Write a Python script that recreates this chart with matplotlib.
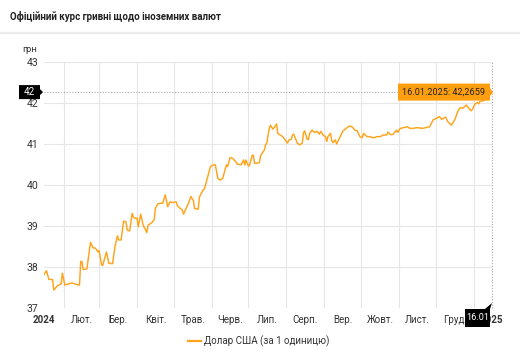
import matplotlib
matplotlib.use("Agg")
import matplotlib.pyplot as plt
import matplotlib.dates as mdates
from matplotlib.patches import Polygon
from matplotlib.lines import Line2D
from matplotlib.transforms import IdentityTransform
import pandas as pd

plt.rcParams['font.family'] = ['Roboto', 'DejaVu Sans']

# Official NBU rate, UAH per 1 USD
dates = [
    "2024-01-16", "2024-01-18", "2024-01-20", "2024-01-23", "2024-01-24", "2024-01-27",
    "2024-01-30", "2024-01-31", "2024-02-02", "2024-02-04", "2024-02-08", "2024-02-12",
    "2024-02-14", "2024-02-15", "2024-02-16", "2024-02-17", "2024-02-20", "2024-02-23",
    "2024-02-25", "2024-02-27", "2024-02-29", "2024-03-01", "2024-03-03", "2024-03-04",
    "2024-03-07", "2024-03-09", "2024-03-12", "2024-03-14", "2024-03-16", "2024-03-17",
    "2024-03-19", "2024-03-21", "2024-03-23", "2024-03-24", "2024-03-26", "2024-03-28",
    "2024-03-29", "2024-03-30", "2024-04-01", "2024-04-02", "2024-04-04", "2024-04-06",
    "2024-04-09", "2024-04-10", "2024-04-13", "2024-04-15", "2024-04-16", "2024-04-18",
    "2024-04-21", "2024-04-22", "2024-04-24", "2024-04-25", "2024-04-26", "2024-04-28",
    "2024-04-30", "2024-05-03", "2024-05-04", "2024-05-08", "2024-05-09", "2024-05-12",
    "2024-05-13", "2024-05-15", "2024-05-17", "2024-05-18", "2024-05-21", "2024-05-22",
    "2024-05-25", "2024-05-26", "2024-05-28", "2024-05-31", "2024-06-02", "2024-06-04",
    "2024-06-06", "2024-06-08", "2024-06-10", "2024-06-13", "2024-06-14", "2024-06-16",
    "2024-06-18", "2024-06-20", "2024-06-22", "2024-06-25", "2024-06-27", "2024-06-28",
    "2024-06-29", "2024-07-01", "2024-07-02", "2024-07-04", "2024-07-05", "2024-07-06",
    "2024-07-08", "2024-07-10", "2024-07-11", "2024-07-13", "2024-07-14", "2024-07-15",
    "2024-07-16", "2024-07-18", "2024-07-19", "2024-07-21", "2024-07-23", "2024-07-24",
    "2024-07-25", "2024-07-27", "2024-07-29", "2024-08-01", "2024-08-02", "2024-08-03",
    "2024-08-05", "2024-08-06", "2024-08-07", "2024-08-10", "2024-08-12", "2024-08-14",
    "2024-08-15", "2024-08-16", "2024-08-18", "2024-08-19", "2024-08-20", "2024-08-22",
    "2024-08-24", "2024-08-26", "2024-08-28", "2024-08-29", "2024-08-31", "2024-09-02",
    "2024-09-03", "2024-09-04", "2024-09-06", "2024-09-07", "2024-09-08", "2024-09-10",
    "2024-09-11", "2024-09-14", "2024-09-16", "2024-09-20", "2024-09-22", "2024-09-24",
    "2024-09-26", "2024-09-28", "2024-09-30", "2024-10-02", "2024-10-03", "2024-10-06",
    "2024-10-08", "2024-10-11", "2024-10-14", "2024-10-17", "2024-10-19", "2024-10-22",
    "2024-10-23", "2024-10-25", "2024-10-27", "2024-10-30", "2024-10-31", "2024-11-02",
    "2024-11-05", "2024-11-08", "2024-11-10", "2024-11-12", "2024-11-16", "2024-11-20",
    "2024-11-23", "2024-11-26", "2024-11-29", "2024-12-02", "2024-12-04", "2024-12-06",
    "2024-12-09", "2024-12-11", "2024-12-14", "2024-12-17", "2024-12-19", "2024-12-21",
    "2024-12-23", "2024-12-26", "2024-12-27", "2024-12-30", "2024-12-31", "2025-01-02",
    "2025-01-04", "2025-01-05", "2025-01-06", "2025-01-08", "2025-01-09", "2025-01-11",
    "2025-01-14", "2025-01-16",
]
usd_rate = [
    37.82, 37.91, 37.70, 37.69, 37.44, 37.54,
    37.59, 37.85, 37.56, 37.58, 37.61, 37.57,
    37.56, 38.13, 38.14, 37.94, 37.95, 38.60,
    38.47, 38.46, 38.37, 38.40, 38.05, 38.04,
    38.37, 38.09, 38.08, 38.50, 38.76, 38.66,
    38.66, 39.12, 39.10, 38.90, 38.88, 39.31,
    39.22, 39.19, 39.19, 38.98, 39.29, 39.02,
    38.84, 39.02, 39.08, 39.15, 39.43, 39.54,
    39.56, 39.55, 39.76, 39.63, 39.47, 39.59,
    39.57, 39.59, 39.49, 39.39, 39.29, 39.49,
    39.55, 39.72, 39.62, 39.43, 39.41, 39.71,
    39.88, 39.90, 40.12, 40.45, 40.49, 40.49,
    40.16, 40.12, 40.16, 40.49, 40.45, 40.67,
    40.65, 40.59, 40.51, 40.49, 40.61, 40.49,
    40.61, 40.46, 40.49, 40.72, 40.73, 40.53,
    40.53, 40.55, 40.72, 40.81, 40.85, 40.98,
    41.02, 41.38, 41.46, 41.36, 41.44, 41.49,
    41.26, 41.22, 41.18, 41.06, 41.02, 41.10,
    41.11, 41.22, 41.24, 41.02, 40.98, 41.02,
    41.28, 41.32, 41.11, 41.11, 41.26, 41.34,
    41.28, 41.31, 41.24, 41.31, 41.22, 41.18,
    41.06, 41.18, 41.26, 41.10, 41.03, 41.10,
    41.00, 41.18, 41.31, 41.41, 41.44, 41.41,
    41.34, 41.32, 41.18, 41.15, 41.26, 41.18,
    41.18, 41.15, 41.18, 41.18, 41.22, 41.22,
    41.29, 41.23, 41.23, 41.34, 41.28, 41.38,
    41.40, 41.42, 41.38, 41.38, 41.40, 41.38,
    41.40, 41.42, 41.59, 41.63, 41.67, 41.60,
    41.66, 41.54, 41.46, 41.62, 41.79, 41.89,
    41.87, 41.95, 41.91, 41.81, 41.85, 41.97,
    42.01, 41.98, 42.03, 42.06, 42.05, 42.12,
    42.20, 42.2659,
]

title = "Офіційний курс гривні щодо іноземних валют"
unit_label = "грн"
series_name = "Долар США (за 1 одиницю)"
month_labels = ["Лют.", "Бер.", "Квіт.", "Трав.", "Черв.", "Лип.",
                "Серп.", "Вер.", "Жовт.", "Лист.", "Груд."]
year_labels = ["2024", "2025"]
y_ticks = [37, 38, 39, 40, 41, 42, 43]

LINE = "#FFA31A"
TIP = "#FF9F10"
GRID = "#e6e6e6"
TEXT = "#333333"

W, H = 520, 350
fig = plt.figure(figsize=(W / 100, H / 100), dpi=100)
fig.patch.set_facecolor("white")
ax = fig.add_axes([44 / W, 42 / H, 448 / W, 246 / H])

x = mdates.date2num(pd.to_datetime(dates))
ax.plot(x, usd_rate, color=LINE, lw=1.05, solid_joinstyle="round", zorder=3)

ax.set_xlim(x[0], x[-1])
ax.set_ylim(y_ticks[0], y_ticks[-1])

# grid at month boundaries, labels in the middle of each month
month_starts = pd.date_range("2024-02-01", "2025-01-01", freq="MS")
ms = mdates.date2num(month_starts)
ax.set_xticks(ms)
ax.set_xticklabels([])
label_pos = [x[0]] + [(ms[i] + ms[i + 1]) / 2 for i in range(len(ms) - 1)] + [x[-1]]
label_txt = [year_labels[0]] + month_labels + [year_labels[1]]
ax.set_xticks(label_pos, minor=True)
ax.set_xticklabels(label_txt, minor=True)
for t in ax.get_xticklabels(minor=True):
    if t.get_text() in year_labels:
        t.set_fontweight("bold")
        t.set_color("#111111")
ax.tick_params(axis="x", which="both", length=0, pad=5, labelsize=7, labelcolor=TEXT)
ax.set_yticks(y_ticks)
ax.set_yticklabels([str(v) for v in y_ticks])
ax.tick_params(axis="y", length=0, pad=4, labelsize=7.5, labelcolor=TEXT)
ax.grid(True, which="major", color=GRID, lw=0.8)
ax.set_axisbelow(True)
for s in ax.spines.values():
    s.set_visible(False)

# crosshair at the latest value
xl, yl = x[-1], usd_rate[-1]
ax.axhline(yl, color="#aaaaaa", lw=0.8, ls=(0, (1, 1.5)), zorder=2)
ax.axvline(xl, color="#aaaaaa", lw=0.8, ls=(0, (1, 1.5)), zorder=2, clip_on=False)

fig.canvas.draw()
px, py = ax.transData.transform((xl, yl))
ax_left, ax_bottom = ax.transAxes.transform((0, 0))
ident = IdentityTransform()

# value tooltip
bw, bh = 92, 17
right = px - 2
tip_poly = [(right - bw, py - bh / 2), (right, py - bh / 2), (right, py - 4),
            (px + 1, py), (right, py + 4), (right, py + bh / 2), (right - bw, py + bh / 2)]
fig.add_artist(Polygon(tip_poly, closed=True, facecolor=TIP, edgecolor="none",
                       transform=ident, zorder=10))
date_str = pd.to_datetime(dates[-1]).strftime("%d.%m.%Y")
val_str = f"{yl:.4f}".replace(".", ",")
fig.text((right - bw / 2) / W, py / H, f"{date_str}: {val_str}", ha="center", va="center",
         fontsize=6.6, color="#222222", zorder=11)

# y-axis crosshair label
lw_, lh_ = 21, 14
lr = ax_left - 4
ylab_poly = [(lr - lw_, py - lh_ / 2), (lr, py - lh_ / 2), (lr, py - 3),
             (ax_left - 1, py), (lr, py + 3), (lr, py + lh_ / 2), (lr - lw_, py + lh_ / 2)]
fig.add_artist(Polygon(ylab_poly, closed=True, facecolor="black", edgecolor="none",
                       transform=ident, zorder=10))
fig.text((lr - lw_ / 2) / W, py / H, f"{yl:.0f}", ha="center", va="center",
         fontsize=7, color="white", zorder=11)

# x-axis crosshair label
xb_w, xb_h = 25, 18
xb_top = ax_bottom - 1
xb_r = px - 2
xlab_poly = [(xb_r - xb_w, xb_top), (px - 7, xb_top), (px, xb_top + 6), (xb_r, xb_top),
             (xb_r, xb_top - xb_h), (xb_r - xb_w, xb_top - xb_h)]
fig.add_artist(Polygon(xlab_poly, closed=True, facecolor="black", edgecolor="none",
                       transform=ident, zorder=10))
fig.text((xb_r - xb_w / 2) / W, (xb_top - xb_h / 2) / H,
         pd.to_datetime(dates[-1]).strftime("%d.%m"), ha="center", va="center",
         fontsize=6.6, color="white", zorder=11)

# header
fig.text(10 / W, 1 - 16 / H, title, ha="left", va="center", fontsize=7,
         fontweight="bold", color="#222222")
fig.add_artist(Line2D([0, 1], [1 - 33 / H] * 2, color="#ebebeb", lw=1.6,
                      transform=fig.transFigure))
fig.text(30 / W, 1 - 49 / H, unit_label, ha="center", va="center", fontsize=6.8, color=TEXT)

# legend
fig.add_artist(Line2D([188 / W, 201 / W], [1 - 341 / H] * 2, color=LINE, lw=1.6,
                      transform=fig.transFigure))
fig.text(204 / W, 1 - 341 / H, series_name, ha="left", va="center", fontsize=7, color=TEXT)

fig.savefig("out.png", dpi=100, facecolor="white")
